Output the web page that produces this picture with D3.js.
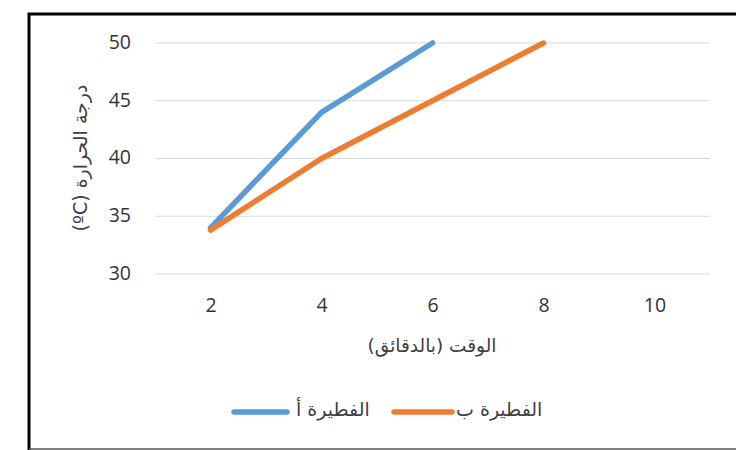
<!DOCTYPE html>
<html><head><meta charset="utf-8">
<script src="https://cdn.jsdelivr.net/npm/d3@7"></script>
<style>body{margin:0;background:#fff}svg{display:block}</style>
</head><body>
<svg id="c" width="736" height="450"></svg>
<script>
const categories = [2, 4, 6, 8, 10];
const seriesA = [34, 44, 50, null, null];
const seriesB = [33.8, 40, 45, 50, null];
const yTicks = [30, 35, 40, 45, 50];
const seriesNames = ["الفطيرة أ", "الفطيرة ب"];
const xTitle = "الوقت (بالدقائق)";
const yTitle = "درجة الحرارة (ºC)";
const colors = ["#5B9BD5", "#ED7D31"];

const svg = d3.select("#c");
const font = "'Open Sans', 'Liberation Sans', sans-serif";
const arFont = "'DejaVu Sans', 'Liberation Sans', sans-serif";
const pLeft = 155, pRight = 710, pTop = 43, pBottom = 274;

// frame
svg.append("path").attr("d", "M29,450 V14 H736").attr("fill","none").attr("stroke","#000").attr("stroke-width",3);
svg.append("line").attr("x1",29).attr("x2",736).attr("y1",449).attr("y2",449).attr("stroke","#555").attr("stroke-width",1.5);

const x = d3.scalePoint().domain(categories).range([pLeft, pRight]).padding(0.5);
const y = d3.scaleLinear().domain([30, 50]).range([pBottom, pTop]);

// grid
svg.append("g").selectAll("line").data(yTicks).join("line")
  .attr("x1", pLeft).attr("x2", pRight)
  .attr("y1", d => y(d)).attr("y2", d => y(d))
  .attr("stroke", "#d9d9d9").attr("stroke-width", 1);

// y axis labels
const yAxis = svg.append("g").attr("transform", `translate(${pLeft - 24},-1)`)
  .call(d3.axisLeft(y).tickValues(yTicks).tickSize(0).tickPadding(0));
yAxis.select(".domain").remove();
yAxis.selectAll("text").attr("font-family", font).attr("font-size", 19.5).attr("fill", "#333");

// x axis labels
const xAxis = svg.append("g").attr("transform", `translate(0,312)`)
  .call(d3.axisBottom(x).tickSize(0).tickPadding(0));
xAxis.select(".domain").remove();
xAxis.selectAll("text").attr("y", 0).attr("dy", 0).attr("font-family", font).attr("font-size", 19.5).attr("fill", "#333");

// titles
svg.append("text").attr("x", 432).attr("y", 352).attr("text-anchor","middle").attr("direction","rtl")
  .attr("font-family", arFont).attr("font-size", 18.5).attr("fill","#404040").text(xTitle);
svg.append("text").attr("transform", `translate(87,158) rotate(-90)`).attr("text-anchor","middle").attr("direction","rtl")
  .attr("font-family", arFont).attr("font-size", 19).attr("fill","#404040").text(yTitle);

// lines
const line = d3.line().defined(d => d.v != null).x(d => x(d.c)).y(d => y(d.v));
[seriesA, seriesB].forEach((s, i) => {
  const pts = categories.map((c, j) => ({c, v: s[j]}));
  svg.append("path").datum(pts).attr("d", line).attr("fill","none")
    .attr("stroke", colors[i]).attr("stroke-width", 5.5).attr("stroke-linecap","round").attr("stroke-linejoin","round");
});

// legend
const legendItems = [{x1: 234, x2: 287, tx: 296}, {x1: 394, x2: 452, tx: 456}];
legendItems.forEach((it, i) => {
  svg.append("line").attr("x1", it.x1).attr("x2", it.x2).attr("y1", 412).attr("y2", 412)
    .attr("stroke", colors[i]).attr("stroke-width", 5.5).attr("stroke-linecap","round");
  svg.append("text").attr("x", it.tx).attr("y", 416).attr("text-anchor","start")
    .attr("font-family", arFont).attr("font-size", 19).attr("fill","#404040").text(seriesNames[i]);
});
</script>
</body></html>
